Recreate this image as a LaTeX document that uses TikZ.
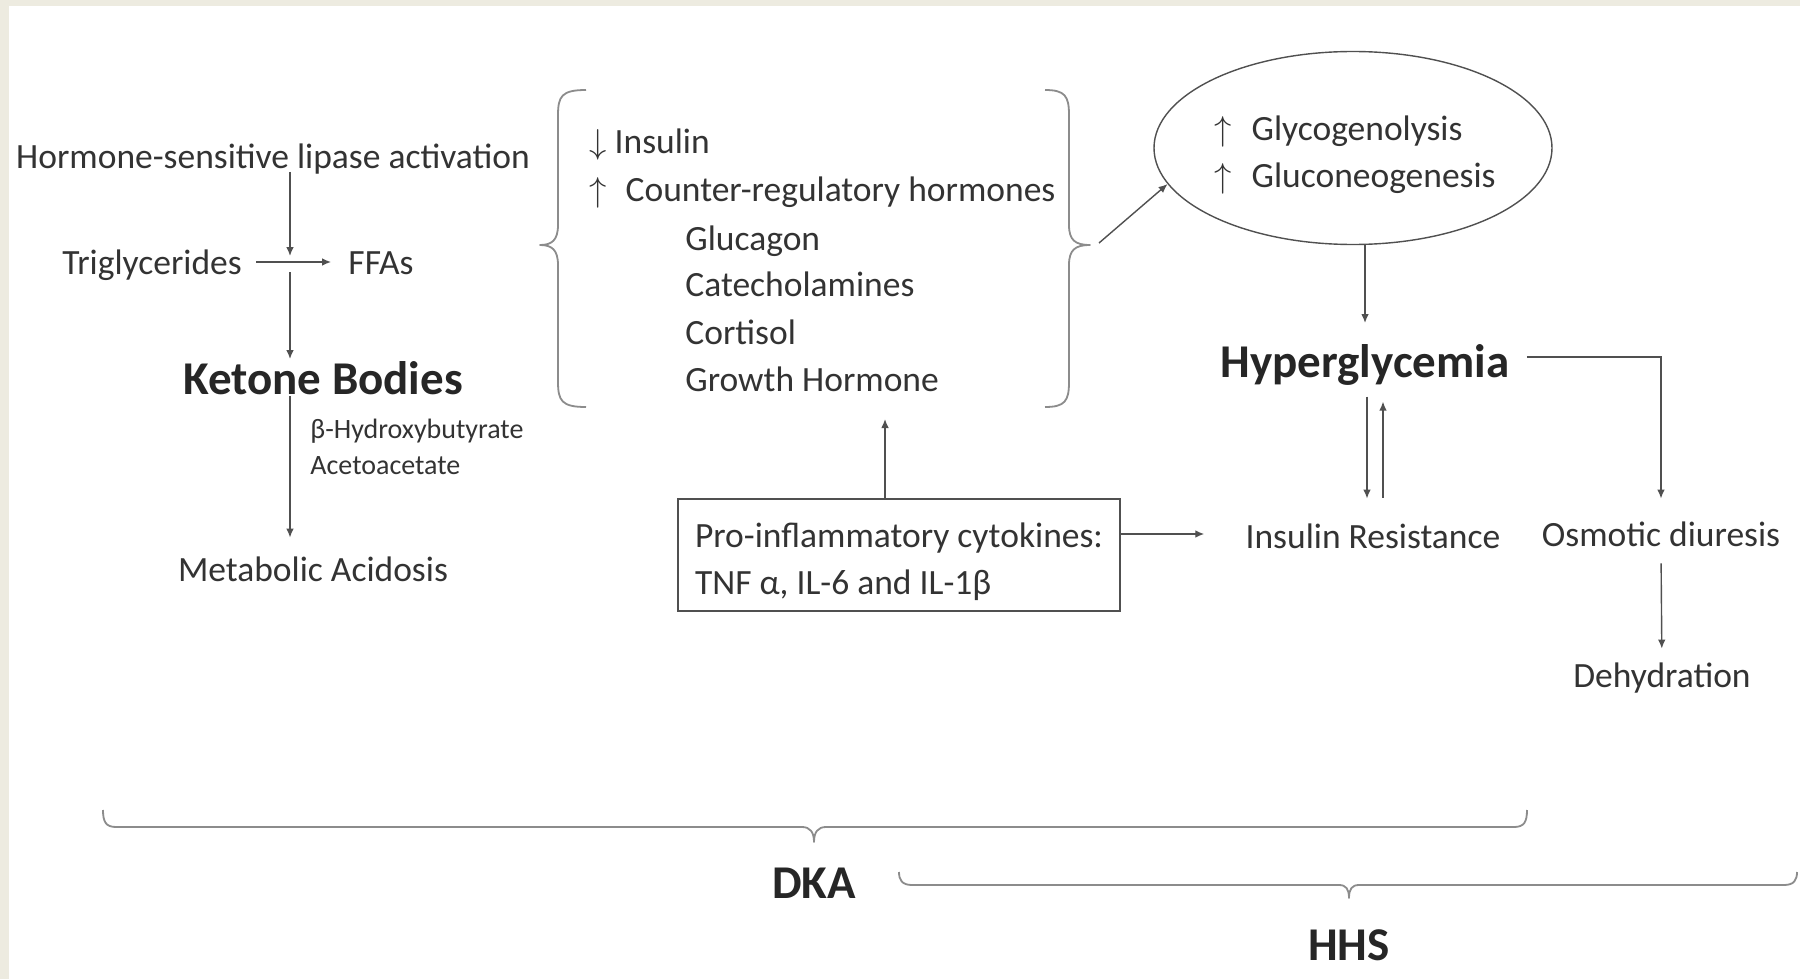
\documentclass[tikz,border=0pt]{standalone}
\usepackage{fontspec}
\setmainfont{Carlito}
\usepackage{amsmath}
\usetikzlibrary{arrows.meta,shapes.geometric}
\definecolor{paper}{HTML}{EDEBE0}
\definecolor{ink}{HTML}{333333}
\definecolor{wire}{HTML}{505050}

\tikzset{
	txt/.style={text=ink, font=\fontsize{17.75}{23.5}\selectfont, inner sep=0pt, text height=0.7em, text depth=0.2em},
	txtm/.style={text=ink, font=\fontsize{17.75}{23.5}\selectfont, inner sep=0pt},
	big/.style={text=black!85, font=\fontsize{23.5}{28}\selectfont\bfseries, inner sep=0pt, text height=0.72em, text depth=0.2em},
	small/.style={text=ink, font=\fontsize{14}{17}\selectfont, inner sep=0pt, anchor=west},
	flow/.style={draw=wire, line width=0.7pt, -{Latex[length=4.5pt,width=3.8pt]}},
	curly/.style={draw=black!45, line width=0.9pt, line join=round},
}

\begin{document}
\begin{tikzpicture}[x=0.5pt, y=-0.5pt]
	\useasboundingbox (0,0) rectangle (1800,979);
	\fill[paper] (0,0) rectangle (1800,979);
	\fill[white] (9,6) rectangle (1800,979);

	% lipolysis and ketones
	\node[txt] (hsl) at (273,164) {Hormone-sensitive lipase activation};
	\node[txt] (tg) at (152,269) {Triglycerides};
	\node[txt] (ffa) at (381,269) {FFAs};
	\node[big] (kb) at (323,389) {Ketone Bodies};
	\node[small] (bhb) at (310,431) {β-Hydroxybutyrate};
	\node[small] (aca) at (310,466) {Acetoacetate};
	\node[txt] (ma) at (313,576) {Metabolic Acidosis};
	\coordinate (cross) at (290,262);
	\draw[flow, shorten <=7pt, shorten >=8.5pt] (tg.east |- cross) -- (ffa.west |- cross);
	\draw[flow, shorten <=1.5pt] (hsl.base -| cross) -- ([yshift=3pt]cross);
	\draw[flow, shorten >=10.2pt] ([yshift=-5pt]cross) -- (kb.north -| cross);
	\draw[flow, shorten <=1pt, shorten >=14.5pt] (kb.base -| cross) -- (ma.north -| cross);

	% hormones
	\node[txt, anchor=west] (ins) at (589,149) {$\downarrow$\hspace{4pt}Insulin};
	\node[txt, anchor=west] (crh) at (589,196) {$\uparrow$\hspace{9.5pt}Counter-regulatory hormones};
	\foreach \nm/\lbl/\y in {glu/Glucagon/245, cat/Catecholamines/291, cor/Cortisol/339, gh/Growth Hormone/386}
		\node[txt, anchor=west] (\nm) at (685,\y) {\lbl};
	\draw[curly] (586,90) .. controls (562,90) and (558,96) .. (558,115) -- (558,225)
		.. controls (558,240) and (552,245) .. (540,245) .. controls (552,245) and (558,250) .. (558,265)
		-- (558,382) .. controls (558,401) and (562,407) .. (586,407);
	\draw[curly] (1045,90) .. controls (1065,90) and (1069,96) .. (1069,115) -- (1069,225)
		.. controls (1069,240) and (1075,245) .. (1090,245) .. controls (1075,245) and (1069,250) .. (1069,265)
		-- (1069,382) .. controls (1069,401) and (1065,407) .. (1045,407);
	\coordinate (rtip) at (1099,243);
	\coordinate (cup) at (885,419);

	% glucose
	\node[draw=wire, line width=0.7pt, ellipse, minimum width=199pt, minimum height=96.5pt, inner sep=0pt] (gly) at (1353,148) {};
	\node[txtm, align=left] (glytxt) at (1355,155)
		{$\uparrow$\hspace{10pt}Glycogenolysis\\ $\uparrow$\hspace{10pt}Gluconeogenesis};
	\node[big] (hyp) at (1365,372) {Hyperglycemia};
	\node[txt] (ir) at (1373,543) {Insulin Resistance};
	\node[txt] (od) at (1661,541) {Osmotic diuresis};
	\node[txt] (dh) at (1662,682) {Dehydration};
	\draw[flow] (rtip) -- (gly.191);
	\draw[flow, shorten >=19.7pt] (gly.south -| hyp.north) -- (hyp.north);
	\draw[flow] ([xshift=-3pt,yshift=-7.5pt]ir.north |- hyp.south) -- ([xshift=-3pt,yshift=17.5pt]ir.north);
	\draw[flow] ([xshift=5pt,yshift=18pt]ir.north) -- ([xshift=5pt,yshift=-10pt]ir.north |- hyp.south);
	\draw[flow, shorten >=16.5pt] ([xshift=8.5pt,yshift=7.5pt]hyp.east) -| (od.north);
	\draw[flow, shorten <=6.5pt, shorten >=12pt] (od.south) -- (dh.north);

	% cytokines
	\node[draw=wire, line width=0.7pt, minimum width=221pt, minimum height=56pt, inner sep=0pt] (cyto) at (899,555) {};
	\node[txtm, align=left] (cytotxt) at (899,562)
		{Pro-inflammatory cytokines:\\ TNF α, IL-6 and IL-1β};
	\draw[flow] (cyto.north -| cup) -- (cup);
	\draw[flow, shorten >=20.5pt] ([yshift=4.5pt]cyto.east |- ir.west) -- ([yshift=4.5pt]ir.west);

	% DKA / HHS
	\draw[curly] (103,810) .. controls (103,822) and (106,827) .. (116,827) -- (802,827)
		.. controls (810,827) and (814,832) .. (814,842) .. controls (814,832) and (818,827) .. (826,827)
		-- (1514,827) .. controls (1524,827) and (1527,822) .. (1527,810);
	\draw[curly] (899,872) .. controls (899,880) and (902,885) .. (912,885) -- (1339,885)
		.. controls (1346,885) and (1349,889) .. (1349,898) .. controls (1349,889) and (1352,885) .. (1359,885)
		-- (1784,885) .. controls (1794,885) and (1797,880) .. (1797,872);
	\node[big] (dka) at (814,893) {DKA};
	\node[big] (hhs) at (1349,955) {HHS};
\end{tikzpicture}
\end{document}
